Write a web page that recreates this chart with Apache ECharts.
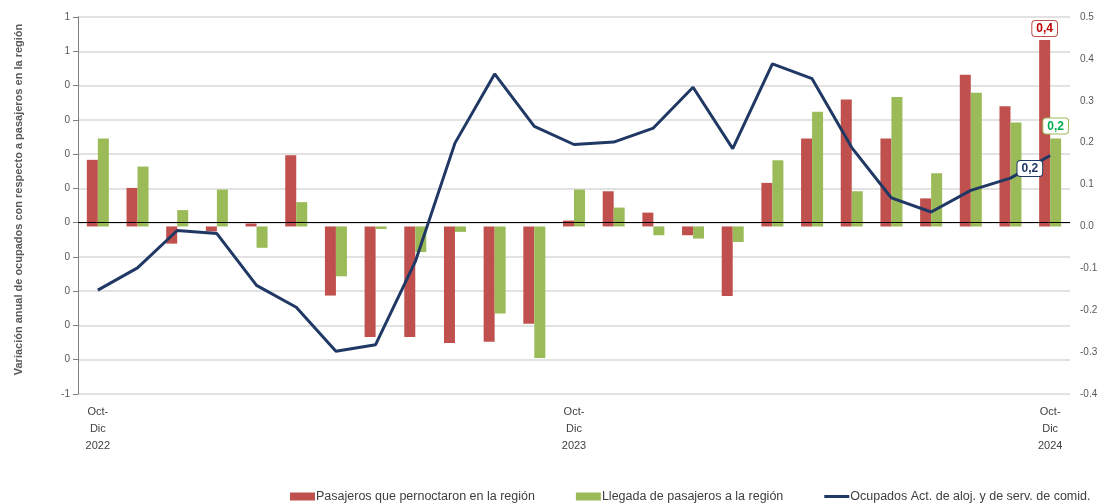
<!DOCTYPE html>
<html lang="es" style="height: 100%">
<head>
  <meta charset="utf-8">
</head>
<body style="height: 100%; margin: 0">
  <div id="container" style="width: 1097px; height: 504px"></div>

  <script type="text/javascript" src="https://cdn.jsdelivr.net/npm/echarts@6/dist/echarts.min.js"></script>

  <script type="text/javascript">
    // trimestres móviles
    const periodos = [
      'Oct-Dic 2022', 'Nov-Ene 2023', 'Dic-Feb 2023', 'Ene-Mar 2023', 'Feb-Abr 2023',
      'Mar-May 2023', 'Abr-Jun 2023', 'May-Jul 2023', 'Jun-Ago 2023', 'Jul-Sep 2023',
      'Ago-Oct 2023', 'Sep-Nov 2023', 'Oct-Dic 2023', 'Nov-Ene 2024', 'Dic-Feb 2024',
      'Ene-Mar 2024', 'Feb-Abr 2024', 'Mar-May 2024', 'Abr-Jun 2024', 'May-Jul 2024',
      'Jun-Ago 2024', 'Jul-Sep 2024', 'Ago-Oct 2024', 'Sep-Nov 2024', 'Oct-Dic 2024'
    ];
    const pernoctaron = [
      0.159, 0.092, -0.041, -0.012, 0.007, 0.170, -0.165, -0.264, -0.264, -0.278,
      -0.275, -0.232, 0.014, 0.084, 0.033, -0.021, -0.166, 0.104, 0.210, 0.303,
      0.210, 0.067, 0.362, 0.287, 0.445
    ];
    const llegada = [
      0.210, 0.143, 0.039, 0.088, -0.051, 0.058, -0.119, -0.006, -0.061, -0.013,
      -0.208, -0.314, 0.088, 0.045, -0.021, -0.029, -0.037, 0.158, 0.274, 0.084,
      0.309, 0.127, 0.319, 0.248, 0.210
    ];
    const ocupados = [
      -0.197, -0.132, -0.023, -0.032, -0.183, -0.247, -0.375, -0.356, -0.114, 0.232,
      0.434, 0.281, 0.228, 0.235, 0.276, 0.395, 0.216, 0.463, 0.420, 0.219,
      0.072, 0.031, 0.094, 0.130, 0.196
    ];

    const nombres = [
      'Pasajeros que pernoctaron en la región',
      'Llegada de pasajeros a la región',
      'Ocupados Act. de aloj. y de serv. de comid.'
    ];

    const coma = (v) => v.toFixed(1).replace('.', ',');
    const cajita = (texto, borde, extra) =>
      Object.assign({
        show: true,
        formatter: (p) => coma(p.value),
        color: texto,
        fontWeight: 'bold',
        fontSize: 12,
        fontFamily: 'Liberation Sans',
        backgroundColor: '#fff',
        borderColor: borde,
        borderWidth: 1,
        borderRadius: 3,
        padding: [2, 4, 1, 4]
      }, extra);
    // solo el último punto lleva etiqueta
    const conEtiqueta = (arr, label) =>
      arr.map((v, i) => (i === arr.length - 1 ? { value: v, label } : v));

    const ultimo = periodos.length - 1;

    var dom = document.getElementById('container');
    var myChart = echarts.init(dom, null, { renderer: 'canvas' });
    var option = {
      backgroundColor: '#fff',
      textStyle: { fontFamily: 'Liberation Sans' },
      animation: false,
      grid: { left: 78, right: 27, top: 17, bottom: 110, outerBoundsMode: 'none', containLabel: false },
      legend: {
        left: 290,
        top: 490,
        width: 860,
        padding: 0,
        itemWidth: 25,
        itemHeight: 8,
        itemGap: 41,
        symbolKeepAspect: true,
        textStyle: { fontSize: 12.5, color: '#404040', padding: [0, 0, 0, -4] },
        data: [
          { name: nombres[0], icon: 'rect' },
          { name: nombres[1], icon: 'rect' },
          { name: nombres[2], icon: 'path://M0,0L25,0L25,3L0,3Z' }
        ]
      },
      xAxis: {
        type: 'category',
        data: periodos,
        axisLine: { show: false },
        axisTick: { show: false },
        axisLabel: {
          interval: 11,
          margin: 9,
          fontSize: 11,
          lineHeight: 17,
          color: '#404040',
          formatter: (s) => s.replace('-', '-\n').replace(' ', '\n')
        }
      },
      yAxis: [
        {
          type: 'value',
          min: -0.5,
          max: 0.6,
          interval: 0.1,
          name: 'Variación anual de ocupados con respecto a pasajeros en la región',
          nameLocation: 'middle',
          nameGap: 54,
          nameTextStyle: { fontSize: 11, fontWeight: 'bold', color: '#595959', padding: [0, 0, 0, 12] },
          axisLine: { show: true, lineStyle: { color: '#7f7f7f' } },
          axisTick: { show: true, length: 5, lineStyle: { color: '#7f7f7f' } },
          axisLabel: {
            fontSize: 10,
            color: '#595959',
            margin: 8,
            formatter: (v) => {
              const r = Math.round(Math.abs(v) + 1e-9) * Math.sign(v);
              return r === 0 ? '0' : String(r);
            }
          },
          splitLine: { lineStyle: { color: '#d9d9d9', width: 1.5 } }
        },
        {
          type: 'value',
          min: -0.4,
          max: 0.5,
          interval: 0.1,
          axisLine: { show: false },
          axisTick: { show: false },
          axisLabel: {
            fontSize: 10,
            color: '#595959',
            margin: 10,
            formatter: (v) => v.toFixed(1)
          },
          splitLine: { show: false }
        }
      ],
      series: [
        {
          name: nombres[0],
          type: 'bar',
          yAxisIndex: 1,
          barWidth: 11,
          barGap: '0%',
          itemStyle: { color: '#c0504d' },
          data: conEtiqueta(pernoctaron, cajita('#c00000', '#c0504d', { position: 'top', distance: 4 }))
        },
        {
          name: nombres[1],
          type: 'bar',
          yAxisIndex: 1,
          barWidth: 11,
          barGap: '0%',
          itemStyle: { color: '#9bbb59' },
          data: conEtiqueta(llegada, cajita('#00b050', '#9bbb59', { position: 'top', distance: 5 }))
        },
        {
          name: nombres[2],
          type: 'line',
          yAxisIndex: 0,
          symbol: 'none',
          z: 5,
          lineStyle: { color: '#1f3864', width: 3 },
          itemStyle: { color: '#1f3864' },
          data: ocupados,
          markPoint: {
            silent: true,
            z: 20,
            symbol: 'circle',
            symbolSize: 0,
            label: cajita('#1f3864', '#1f3864', { position: 'left', distance: 8, offset: [0, 13] }),
            data: [{ coord: [ultimo, ocupados[ultimo]], value: ocupados[ultimo] }]
          },
          markLine: {
            silent: true,
            symbol: 'none',
            label: { show: false },
            lineStyle: { color: '#000', width: 1, type: 'solid' },
            data: [{ yAxis: 0 }]
          }
        }
      ]
    };

    myChart.setOption(option);
    window.addEventListener('resize', myChart.resize);
  </script>
</body>
</html>
